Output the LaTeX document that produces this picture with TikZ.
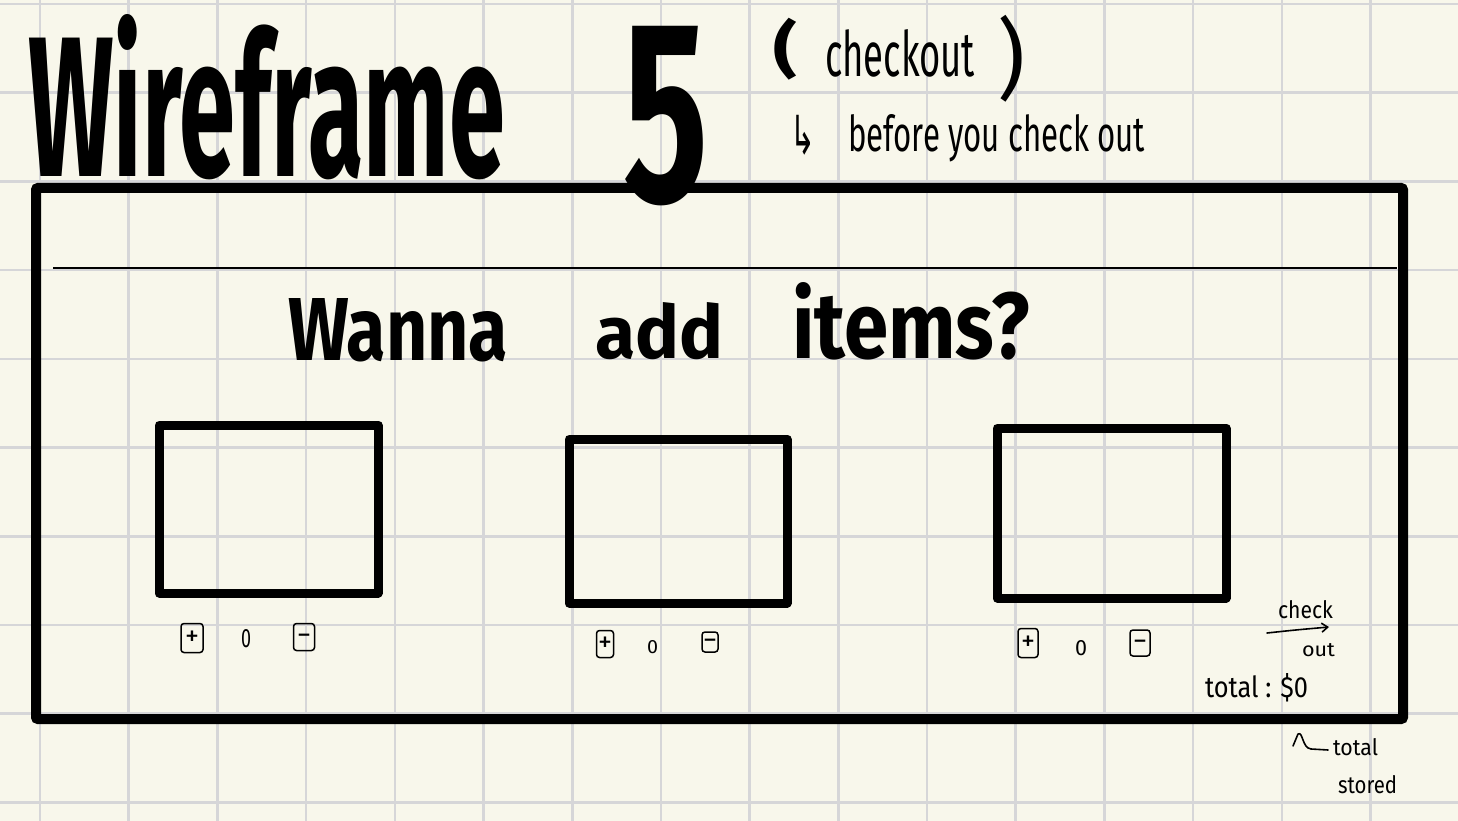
\documentclass[tikz,border=0pt]{standalone}
\usepackage{fontspec}
\usepackage{graphicx}
\setmainfont{Fira Sans}
\newfontfamily\djv{DejaVu Sans}
\usetikzlibrary{arrows.meta}
\definecolor{paper}{RGB}{248,247,235}
\definecolor{gridc}{RGB}{214,214,216}
\newcommand{\fitto}[3]{\resizebox{#1pt}{#2pt}{#3}}
\newcommand{\fittot}[3]{\resizebox*{#1pt}{#2pt}{#3}}
\newcommand{\mns}{\vphantom{+}−}
\tikzset{
  txt/.style={inner sep=0pt, outer sep=0pt, anchor=base west},
  toptxt/.style={inner sep=0pt, outer sep=0pt, anchor=north west},
  card/.style={draw=black, line width=9pt, inner sep=0pt, line join=round},
  pmbox/.style={draw=black, line width=1.5pt, rounded corners=3pt, inner sep=0pt, font=\fontsize{28}{28}\selectfont},
  thinline/.style={line width=1.6pt, line cap=round, line join=round}
}
\begin{document}
\begin{tikzpicture}[x=1pt,y=-1pt]
\useasboundingbox (0,0) rectangle (1458,821);
\fill[paper] (0,0) rectangle (1458,821);
% grid
\foreach \k in {0,...,15} {
  \draw[gridc, line width=2.6pt] ({40+88.7*\k},0) -- ({40+88.7*\k},821);
}
\foreach \k in {0,...,9} {
  \draw[gridc, line width=2.6pt] (0,{4+88.7*\k}) -- (1458,{4+88.7*\k});
}
% title
\node[txt] (title) at (28,177) {\fitto{477}{162}{\bfseries Wireframe}};
% main frame
\node[draw=black, line width=10pt, inner sep=0pt, minimum width=1367pt, minimum height=531pt, rounded corners=2pt] (frame) at (719.5,453.5) {};
\coordinate (divL) at (53,268);
\coordinate (divR) at (1397,268);
\draw[line width=2pt] (divL) -- (divR);
\node[txt] (five) at (623,202) {\fitto{85}{175}{\bfseries 5}};
% checkout annotation
\node[toptxt] (lpar) at (773,18) {\fittot{24}{62}{\bfseries (}};
\node[txt] (chk) at (825,77) {\fitto{150}{47}{checkout}};
\node[toptxt] (rpar) at (997,15) {\fittot{28}{87}{)}};
\node[toptxt] (hook) at (790,115) {\fittot{25}{40}{\djv ↳}};
\node[txt] (before) at (848,152) {\fitto{297}{37}{before you check out}};
% heading
\node[txt] (w1) at (288,360) {\fitto{220}{62}{\bfseries Wanna}};
\node[txt] (w2) at (595,358) {\fitto{128}{56}{\bfseries add}};
\node[txt] (w3) at (792,358) {\fitto{238}{76}{\bfseries items?}};
% cards
\node[card, minimum width=219pt, minimum height=168pt] (card1) at (268.5,509) {};
\node[card, minimum width=218pt, minimum height=164pt] (card2) at (678,521) {};
\node[card, minimum width=229pt, minimum height=170pt] (card3) at (1111.5,513) {};
% +/- controls
\node[pmbox, minimum width=22pt, minimum height=29pt] (p1) at (192,638) {+};
\node[txt] (z1) at (241,647) {\fitto{10}{18}{0}};
\node[pmbox, minimum width=21pt, minimum height=27pt] (m1) at (304,637) {\mns};
\node[pmbox, minimum width=17pt, minimum height=27pt] (p2) at (605,644) {+};
\node[txt] (z2) at (647,653) {\fitto{11}{13}{0}};
\node[pmbox, minimum width=16pt, minimum height=20pt] (m2) at (710,642) {\mns};
\node[pmbox, minimum width=20pt, minimum height=29pt] (p3) at (1028,643) {+};
\node[txt] (z3) at (1075,655) {\fitto{12}{15}{0}};
\node[pmbox, minimum width=20pt, minimum height=26pt] (m3) at (1140,643) {\mns};
% check out arrow
\node[txt] (ckw) at (1278,618) {\fitto{55}{18}{check}};
\coordinate (arA) at (1267,633);
\coordinate (arB) at (1329,627);
\draw[thinline, -{Straight Barb[length=6pt,width=9pt]}] (arA) .. controls (1295,630) .. (arB);
\node[txt] (ow) at (1302,656) {\fitto{33}{13}{out}};
% total
\node[txt] (tot) at (1205,697) {\fitto{103}{24}{total : \$0}};
\coordinate (hkA) at (1293,746);
\coordinate (hkB) at (1328,750);
\draw[thinline] (hkA) -- (1298,734) .. controls (1303,731) and (1302,748) .. (1311,749) -- (hkB);
\node[txt] (tot2) at (1333,755) {\fitto{45}{17}{total}};
\node[txt] (stor) at (1338,793) {\fitto{59}{18}{stored}};
\end{tikzpicture}
\end{document}
